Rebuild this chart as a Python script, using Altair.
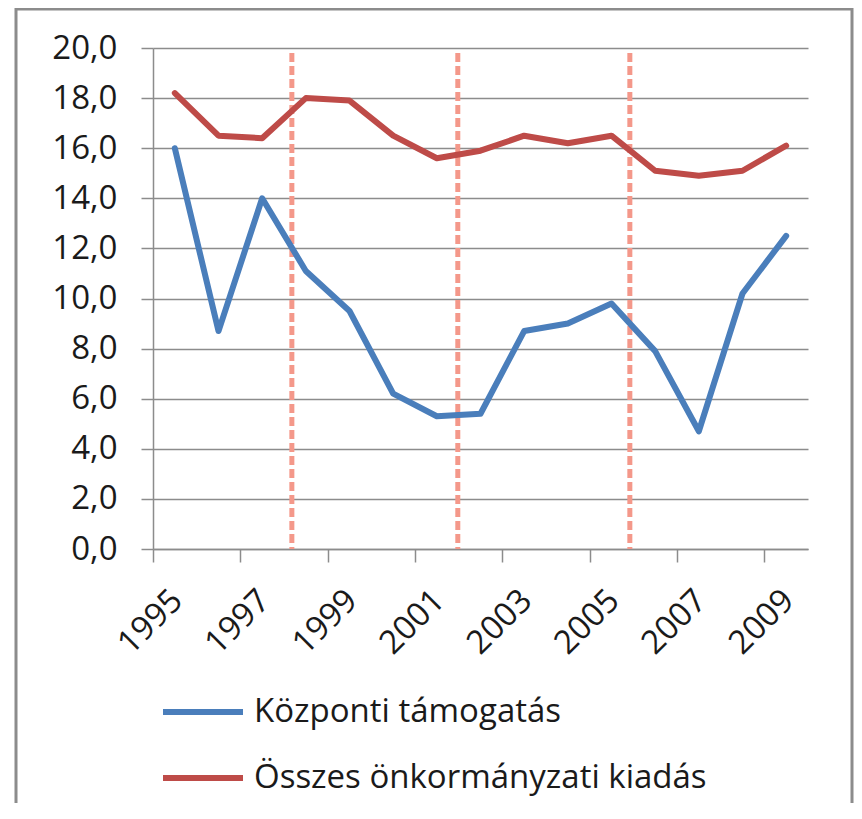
import altair as alt
import pandas as pd

years = list(range(1995, 2010))
kozponti = [16.0, 8.7, 14.0, 11.1, 9.5, 6.2, 5.3, 5.4, 8.7, 9.0, 9.8, 7.9, 4.7, 10.2, 12.5]
osszes = [18.2, 16.5, 16.4, 18.0, 17.9, 16.5, 15.6, 15.9, 16.5, 16.2, 16.5, 15.1, 14.9, 15.1, 16.1]
series_names = ["Központi támogatás", "Összes önkormányzati kiadás"]
series_colors = ["#4A7EBB", "#BE4B48"]
vline_x = [1997.68, 2001.48, 2005.42]
y_ticks = [0, 2, 4, 6, 8, 10, 12, 14, 16, 18, 20]
x_label_years = [1995, 1997, 1999, 2001, 2003, 2005, 2007, 2009]

rows = []
for name, vals in zip(series_names, [kozponti, osszes]):
    for yr, v in zip(years, vals):
        rows.append({"ev": yr, "ertek": v, "sorozat": name})
df = pd.DataFrame(rows)
vdf = pd.DataFrame({"x": vline_x, "top": [19.8] * len(vline_x), "bottom": [0] * len(vline_x)})

FONT = "Open Sans"
W, H = 655, 501
band = W / 15.0

xscale = alt.Scale(domain=[1994.5, 2009.5], nice=False, zero=False)
yscale = alt.Scale(domain=[0, 20], nice=False)

xaxis = alt.Axis(values=x_label_years, labelAngle=-45, title=None, grid=False,
                 tickOffset=-band / 2, labelOffset=band / 2 + 2,
                 tickSize=13, tickColor="#8c8c8c", tickWidth=1.5,
                 domainColor="#8c8c8c", domainWidth=1.5,
                 labelFont=FONT, labelFontSize=33, labelColor="#1a1a1a",
                 labelPadding=33, labelAlign="right", labelBaseline="middle",
                 labelExpr="datum.value + ''", labelOverlap=False)
yaxis = alt.Axis(values=y_ticks, title=None, grid=True, gridColor="#8c8c8c", gridWidth=1.5,
                 tickSize=12, tickColor="#8c8c8c", tickWidth=1.5,
                 domainColor="#8c8c8c", domainWidth=1.5,
                 labelFont=FONT, labelFontSize=33, labelColor="#1a1a1a", labelPadding=24,
                 labelExpr="replace(format(datum.value, '.1f'), '.', ',')")

frame_left = alt.Chart(pd.DataFrame({"a": [0]})).mark_rule(
    stroke="#8c8c8c", strokeWidth=3
).encode(x=alt.value(-137), y=alt.value(-40), y2=alt.value(800))
frame_top = alt.Chart(pd.DataFrame({"a": [0]})).mark_rule(
    stroke="#8c8c8c", strokeWidth=3
).encode(x=alt.value(-138), x2=alt.value(700), y=alt.value(-39))
frame_right = alt.Chart(pd.DataFrame({"a": [0]})).mark_rule(
    stroke="#8c8c8c", strokeWidth=3
).encode(x=alt.value(699), y=alt.value(-40), y2=alt.value(800))

vlines = alt.Chart(vdf).mark_rule(color="#F4988A", strokeWidth=5, strokeDash=[9, 4], opacity=1).encode(
    x=alt.X("x:Q", scale=xscale, axis=xaxis),
    y=alt.Y("top:Q", scale=yscale, axis=yaxis),
    y2="bottom:Q",
)

lines = alt.Chart(df).mark_line(strokeWidth=6, strokeCap="round", strokeJoin="round").encode(
    x=alt.X("ev:Q", scale=xscale, axis=xaxis),
    y=alt.Y("ertek:Q", scale=yscale, axis=yaxis),
    color=alt.Color("sorozat:N", scale=alt.Scale(domain=series_names, range=series_colors),
                    legend=alt.Legend(title=None, orient="none", legendX=7, legendY=621,
                                      symbolType="stroke", symbolSize=6400, symbolStrokeWidth=6,
                                      labelFont=FONT, labelFontSize=33, labelColor="#1a1a1a",
                                      labelOffset=8, rowPadding=6, labelLimit=700)),
    order="ev:Q",
)

chart = alt.layer(frame_left, frame_top, frame_right, vlines, lines).properties(
    width=W, height=H,
    padding={"left": 145, "top": 40, "right": 46, "bottom": 254},
    autosize="none",
    background="white",
).configure_view(stroke=None)

chart.save("out.html", embed_options={"renderer": "svg", "actions": False})
